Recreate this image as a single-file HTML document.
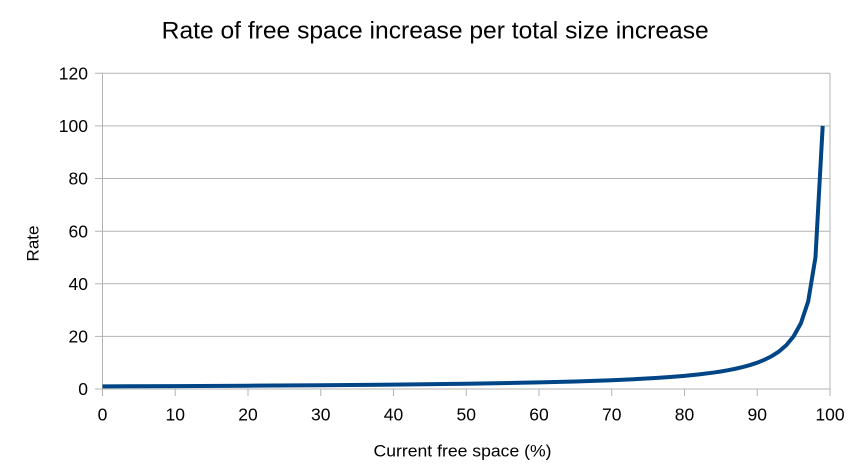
<!DOCTYPE html>
<html>
<head>
<meta charset="utf-8">
<style>
html,body{margin:0;padding:0;background:#fff;}
svg{display:block;}
text{font-family:"Liberation Sans",Arial,sans-serif;fill:#000;}
</style>
</head>
<body>
<svg width="861" height="475" viewBox="0 0 861 475" xmlns="http://www.w3.org/2000/svg">
<rect width="861" height="475" fill="#fff"/>
<text x="435.2" y="38.3" font-size="24.5" text-anchor="middle" textLength="547" lengthAdjust="spacingAndGlyphs">Rate of free space increase per total size increase</text>
<g stroke="#b3b3b3" stroke-width="1" fill="none">
<line x1="95" y1="73.3" x2="830" y2="73.3"/>
<line x1="95" y1="125.9" x2="830" y2="125.9"/>
<line x1="95" y1="178.5" x2="830" y2="178.5"/>
<line x1="95" y1="231.2" x2="830" y2="231.2"/>
<line x1="95" y1="283.8" x2="830" y2="283.8"/>
<line x1="95" y1="336.4" x2="830" y2="336.4"/>
<line x1="95" y1="389" x2="830" y2="389"/>
<line x1="102.5" y1="73.3" x2="102.5" y2="396"/>
<line x1="830" y1="73.3" x2="830" y2="396"/>
<line x1="175.25" y1="389" x2="175.25" y2="396"/>
<line x1="248" y1="389" x2="248" y2="396"/>
<line x1="320.75" y1="389" x2="320.75" y2="396"/>
<line x1="393.5" y1="389" x2="393.5" y2="396"/>
<line x1="466.25" y1="389" x2="466.25" y2="396"/>
<line x1="539" y1="389" x2="539" y2="396"/>
<line x1="611.75" y1="389" x2="611.75" y2="396"/>
<line x1="684.5" y1="389" x2="684.5" y2="396"/>
<line x1="757.25" y1="389" x2="757.25" y2="396"/>
</g>
<g font-size="17.5" text-anchor="end">
<text x="88" y="79.5">120</text>
<text x="88" y="132.1">100</text>
<text x="88" y="184.7">80</text>
<text x="88" y="237.4">60</text>
<text x="88" y="290">40</text>
<text x="88" y="342.6">20</text>
<text x="88" y="395.2">0</text>
</g>
<g font-size="17.5" text-anchor="middle">
<text x="102.5" y="420.3">0</text>
<text x="175.25" y="420.3">10</text>
<text x="248" y="420.3">20</text>
<text x="320.75" y="420.3">30</text>
<text x="393.5" y="420.3">40</text>
<text x="466.25" y="420.3">50</text>
<text x="539" y="420.3">60</text>
<text x="611.75" y="420.3">70</text>
<text x="684.5" y="420.3">80</text>
<text x="757.25" y="420.3">90</text>
<text x="830" y="420.3">100</text>
</g>
<text x="462.5" y="456.7" font-size="17" text-anchor="middle" textLength="178" lengthAdjust="spacingAndGlyphs">Current free space (%)</text>
<text transform="translate(38.5,243.5) rotate(-90)" x="0" y="0" font-size="17" text-anchor="middle">Rate</text>
<polyline fill="none" stroke="#004586" stroke-width="4" stroke-linejoin="round" stroke-linecap="butt"
points="102.5,386.37 175.25,386.08 248,385.71 320.75,385.24 393.5,384.62 466.25,383.74 502.6,383.15 539,382.42 575.4,381.48 611.75,380.23 633.6,379.26 655.4,378.04 670,377.04 684.5,375.85 699.05,374.38 713.6,372.56 720.9,371.46 728.15,370.21 735.4,368.76 742.7,367.08 750,365.08 757.25,362.69 764.5,359.77 771.8,356.11 779.1,351.42 786.35,345.15 793.6,336.38 800.9,323.23 808.2,301.31 815.45,257.46 822.7,125.92"/>
</svg>
</body>
</html>
